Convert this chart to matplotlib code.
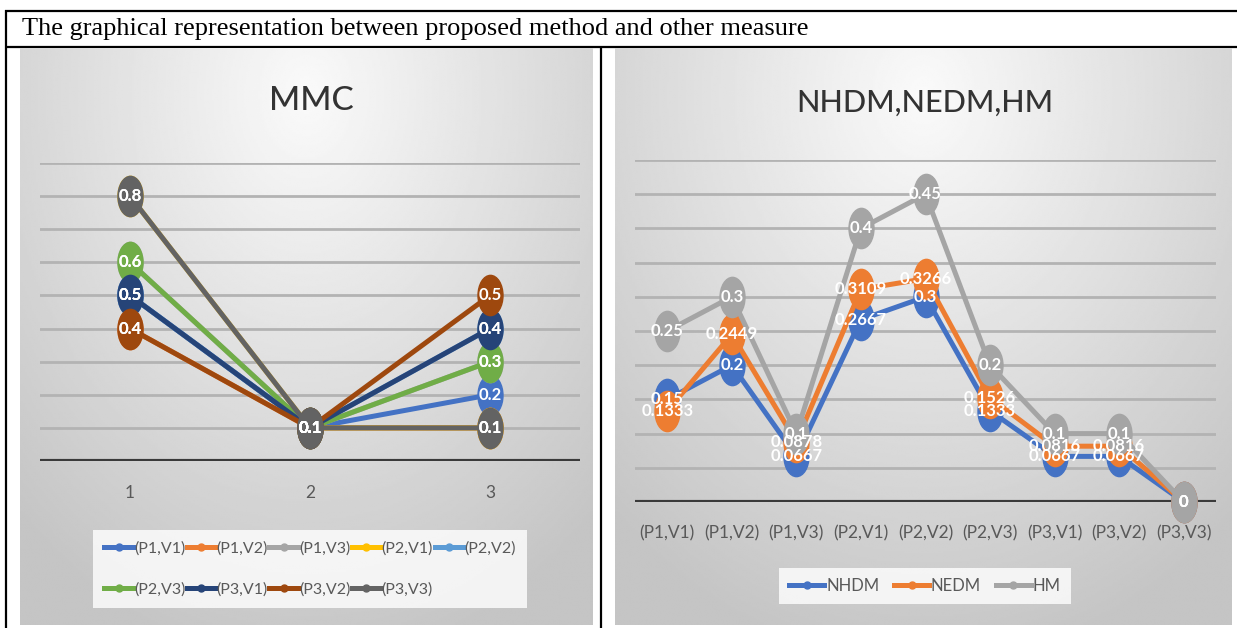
import numpy as np
import matplotlib.pyplot as plt
from matplotlib.lines import Line2D
from matplotlib.path import Path
from matplotlib.transforms import Affine2D

W, H = 1237, 628
narrow = ['Lato', 'DejaVu Sans']

# MMC values for each (P,V) pair at positions 1..3
mmc_x = [1, 2, 3]
mmc_names = ['(P1,V1)', '(P1,V2)', '(P1,V3)', '(P2,V1)', '(P2,V2)',
             '(P2,V3)', '(P3,V1)', '(P3,V2)', '(P3,V3)']
p1v1 = [0.5, 0.1, 0.2]
p1v2 = [0.4, 0.1, 0.1]
p1v3 = [0.6, 0.1, 0.3]
p2v1 = [0.8, 0.1, 0.1]
p2v2 = [0.5, 0.1, 0.4]
p2v3 = [0.6, 0.1, 0.3]
p3v1 = [0.5, 0.1, 0.4]
p3v2 = [0.4, 0.1, 0.5]
p3v3 = [0.8, 0.1, 0.1]
mmc_vals = [p1v1, p1v2, p1v3, p2v1, p2v2, p2v3, p3v1, p3v2, p3v3]
mmc_colors = ['#4472C4', '#ED7D31', '#A5A5A5', '#FFC000', '#5B9BD5',
              '#70AD47', '#264478', '#9E480E', '#636363']

# distance measures per pair
pairs = ['(P1,V1)', '(P1,V2)', '(P1,V3)', '(P2,V1)', '(P2,V2)',
         '(P2,V3)', '(P3,V1)', '(P3,V2)', '(P3,V3)']
nhdm = [0.15, 0.2, 0.0667, 0.2667, 0.3, 0.1333, 0.0667, 0.0667, 0]
nedm = [0.1333, 0.2449, 0.0878, 0.3109, 0.3266, 0.1526, 0.0816, 0.0816, 0]
hm = [0.25, 0.3, 0.1, 0.4, 0.45, 0.2, 0.1, 0.1, 0]
dist_names = ['NHDM', 'NEDM', 'HM']
dist_colors = ['#4472C4', '#ED7D31', '#A5A5A5']

fig = plt.figure(figsize=(W / 100, H / 100), dpi=100)


def px_axes(x0, y0, x1, y1):
    return fig.add_axes([x0 / W, 1 - y1 / H, (x1 - x0) / W, (y1 - y0) / H])


def fx(x):
    return x / W


def fy(y):
    return 1 - y / H


# table frame and header
frame = fig.add_axes([0, 0, 1, 1])
frame.set_xlim(0, W)
frame.set_ylim(H, 0)
frame.axis('off')
for xs, ys in [([5, W], [11, 11]), ([5, W], [47, 47]),
               ([6, 6], [10, H]), ([601, 601], [47, H])]:
    frame.plot(xs, ys, color='black', lw=1.6, solid_capstyle='butt')
frame.text(22, 35, 'The graphical representation between proposed method and other measure',
           family='Liberation Serif', fontsize=19, va='baseline', ha='left')


def chart_bg(x0, y0, x1, y1):
    ax = px_axes(x0, y0, x1, y1)
    ax.set_axis_off()
    gx, gy = np.meshgrid(np.linspace(0, 1, 300), np.linspace(0, 1, 300))
    t = np.clip(np.hypot((gx - 0.5) / 0.75, (gy - 0.08) / 1.0), 0, 1)
    ax.imshow(0.98 - 0.21 * t, cmap='gray', vmin=0, vmax=1, aspect='auto',
              interpolation='bilinear')


chart_bg(20, 48, 593, 625)
chart_bg(615, 48, 1232, 625)

ell = Path.unit_circle().transformed(Affine2D().scale(0.62, 1.0))


def style_axes(ax, ymax, step, pad):
    ax.set_facecolor('none')
    for s in ax.spines.values():
        s.set_visible(False)
    ax.set_ylim(0, ymax)
    ax.set_yticks(np.arange(step, ymax + step / 2, step))
    ax.set_yticklabels([])
    ax.yaxis.grid(True, color='#b3b3b3', lw=2.0, zorder=1)
    ax.set_axisbelow(True)
    ax.tick_params(length=0, pad=pad, labelsize=12.5, labelcolor='#595959')
    for lab in ax.get_xticklabels():
        lab.set_family(narrow)
    ax.axhline(0, color='#3a3a3a', lw=3.0, zorder=2)


def draw_series(ax, x, y, color, z):
    ax.plot(x, y, color=color, lw=3.6, marker=ell, ms=29, mfc=color, mec=color,
            zorder=z, clip_on=False)
    for xi, yi in zip(x, y):
        ax.text(xi, yi, f'{yi:g}', ha='center', va='center', color='white',
                fontsize=12, fontweight='bold', family=narrow, zorder=20 + z)


# left: MMC
ax1 = px_axes(40, 163, 580, 461)
ax1.set_xlim(0.5, 3.5)
ax1.set_xticks(mmc_x)
ax1.set_xticklabels([str(v) for v in mmc_x])
style_axes(ax1, 0.9, 0.1, 17)
for i, (vals, c) in enumerate(zip(mmc_vals, mmc_colors)):
    draw_series(ax1, mmc_x, vals, c, 3 + i * 0.1)

# right: NHDM, NEDM, HM
ax2 = px_axes(635, 160, 1216, 502)
xpos = np.arange(len(pairs))
ax2.set_xlim(-0.5, len(pairs) - 0.5)
ax2.set_xticks(xpos)
ax2.set_xticklabels(pairs)
style_axes(ax2, 0.5, 0.05, 17)
for i, (vals, c) in enumerate(zip([nhdm, nedm, hm], dist_colors)):
    draw_series(ax2, xpos, vals, c, 3 + i * 0.1)

# titles
fig.text(fx(311), fy(101), 'MMC', ha='center', va='center', fontsize=24,
         color='#333333', family=narrow, fontweight='medium')
fig.text(fx(925), fy(103), 'NHDM,NEDM,HM', ha='center', va='center', fontsize=22,
         color='#333333', family=narrow, fontweight='medium')

# legends
order = [0, 5, 1, 6, 2, 7, 3, 8, 4]
h1 = [Line2D([], [], color=mmc_colors[k], lw=3.6, marker='o', ms=5) for k in order]
leg1 = fig.legend(h1, [mmc_names[k] for k in order], loc='center',
                  bbox_to_anchor=(fx(310), fy(569)), ncol=5, frameon=True,
                  prop={'family': narrow, 'size': 11.5}, labelcolor='#595959',
                  handlelength=1.8, handletextpad=0.05, columnspacing=0.1,
                  labelspacing=1.7, borderpad=0.7, fancybox=False)
leg1.get_frame().set_facecolor((1, 1, 1, 0.2))
leg1.get_frame().set_edgecolor('none')

h2 = [Line2D([], [], color=c, lw=3.6, marker='o', ms=5) for c in dist_colors]
leg2 = fig.legend(h2, dist_names, loc='center', bbox_to_anchor=(fx(925), fy(586)),
                  ncol=3, frameon=True, prop={'family': narrow, 'size': 12},
                  labelcolor='#595959', handlelength=2.1, handletextpad=0.1,
                  columnspacing=0.9, borderpad=0.6, fancybox=False)
leg2.get_frame().set_facecolor((1, 1, 1, 0.2))
leg2.get_frame().set_edgecolor('none')

fig.savefig('out.png', dpi=100)
